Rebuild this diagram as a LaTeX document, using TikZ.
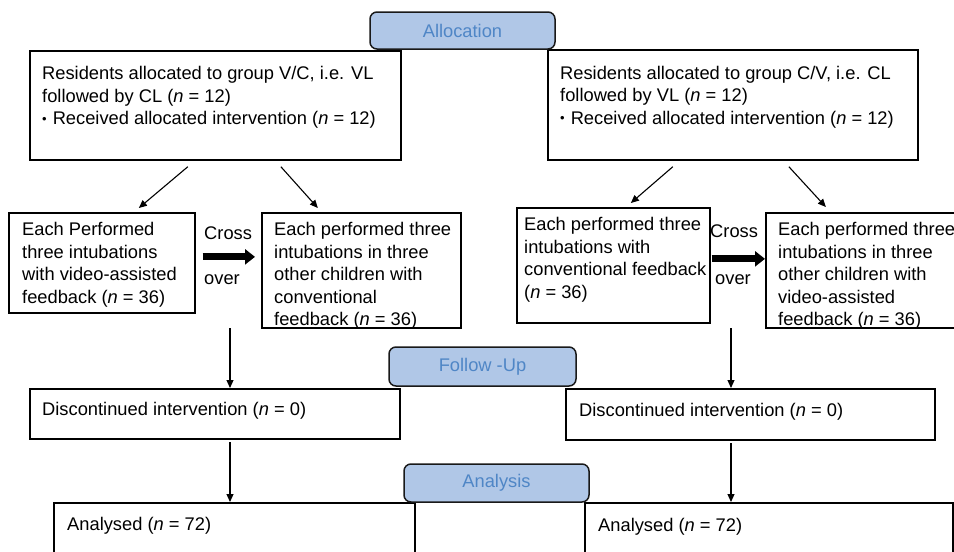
\documentclass[tikz,border=0pt]{standalone}
\usepackage{fontspec}
\setmainfont{Liberation Sans}
\usepackage{xcolor}
\usetikzlibrary{arrows.meta}
\definecolor{phasefill}{HTML}{B0C7E7}
\definecolor{phasetext}{HTML}{4F86C6}
\newcommand{\smallbullet}{{\fontsize{13}{13}\selectfont\raisebox{1.5pt}{\textbullet}}\hspace{6pt}}

\begin{document}
\begin{tikzpicture}[x=1pt,y=-1pt,
  every node/.style={font=\fontsize{18.3}{22.5}\selectfont},
  box/.style={draw, line width=1.7pt, anchor=north west, inner sep=0pt},
  txt/.style={anchor=north west, inner sep=0pt, align=left},
  phase/.style={draw=black!90, line width=1.5pt, fill=phasefill, text=phasetext, rounded corners=7pt, inner sep=0pt},
  conn/.style={line width=1.1pt, -{Triangle[length=8pt,width=7pt]}},
  fat/.style={line width=7pt, -{Triangle[length=10pt,width=15pt]}}]
\path[clip, use as bounding box] (0,0) rectangle (954,552);
\fill[white] (0,0) rectangle (954,552);

\node[box, minimum width=371pt, minimum height=109pt] (vcAlloc) at (29,50) {};
\node[box, minimum width=370pt, minimum height=110pt] (cvAlloc) at (547,49) {};
\node[box, minimum width=186pt, minimum height=100pt] (vcFirst) at (8,212) {};
\node[box, minimum width=199pt, minimum height=115pt] (vcSecond) at (261,212) {};
\node[box, minimum width=193pt, minimum height=115pt] (cvFirst) at (516,207) {};
\node[box, minimum width=195pt, minimum height=115pt] (cvSecond) at (765,212) {};
\node[box, minimum width=370pt, minimum height=50pt] (vcDisc) at (29,388) {};
\node[box, minimum width=369pt, minimum height=51pt] (cvDisc) at (565,388) {};
\node[box, minimum width=361pt, minimum height=80pt] (vcResult) at (53,502) {};
\node[box, minimum width=368pt, minimum height=80pt] (cvResult) at (584,502) {};

\node[txt] (vcAllocTxt) at ([shift={(13,16.5)}]vcAlloc.north west) {Residents allocated to group V/C, i.e. VL\\followed by CL (\textit{n} = 12)\\\smallbullet Received allocated intervention (\textit{n} = 12)};
\node[txt] (cvAllocTxt) at ([shift={(13,17)}]cvAlloc.north west) {Residents allocated to group C/V, i.e. CL\\followed by VL (\textit{n} = 12)\\\smallbullet Received allocated intervention (\textit{n} = 12)};
\node[txt] (vcFirstTxt) at ([shift={(14,10.5)}]vcFirst.north west) {Each Performed\\three intubations\\with video-assisted\\feedback (\textit{n} = 36)};
\node[txt] (vcSecondTxt) at ([shift={(13,10.5)}]vcSecond.north west) {Each performed three\\intubations in three\\other children with\\conventional\\feedback (\textit{n} = 36)};
\node[txt] (cvFirstTxt) at ([shift={(8,10.5)}]cvFirst.north west) {Each performed three\\intubations with\\conventional feedback\\(\textit{n} = 36)};
\node[txt] (cvSecondTxt) at ([shift={(13,10.5)}]cvSecond.north west) {Each performed three\\intubations in three\\other children with\\video-assisted\\feedback (\textit{n} = 36)};
\node[txt] (vcDiscTxt) at ([shift={(13,14.5)}]vcDisc.north west) {Discontinued intervention (\textit{n} = 0)};
\node[txt] (cvDiscTxt) at ([shift={(14,15)}]cvDisc.north west) {Discontinued intervention (\textit{n} = 0)};
\node[txt] (vcResultTxt) at ([shift={(14,15.5)}]vcResult.north west) {Analysed (\textit{n} = 72)};
\node[txt] (cvResultTxt) at ([shift={(14,16)}]cvResult.north west) {Analysed (\textit{n} = 72)};

\node[phase, minimum width=185pt, minimum height=37pt] (alloc) at (462.5,30.5) {Allocation};
\node[phase, minimum width=187pt, minimum height=39pt] (followup) at (482.5,366.5) {Follow -Up};
\node[phase, minimum width=185pt, minimum height=38pt] (analysis) at (496.5,483) {Analysis};

\node[anchor=base west, inner sep=0pt] (vcCross) at (204,239.5) {Cross};
\node[anchor=base west, inner sep=0pt] (vcOver) at (204,284) {over};
\node[anchor=base west, inner sep=0pt] (cvCross) at (710,237) {Cross};
\node[anchor=base west, inner sep=0pt] (cvOver) at (715,284.3) {over};

\draw[conn] ([shift={(-27.5,6)}]vcAlloc.south) -- ([shift={(37,-4)}]vcFirst.north);
\draw[conn] ([shift={(65.5,6)}]vcAlloc.south) -- ([shift={(-43.5,-4)}]vcSecond.north);
\draw[conn] ([shift={(-60,6)}]cvAlloc.south) -- ([shift={(17.5,-4)}]cvFirst.north);
\draw[conn] ([shift={(56,6)}]cvAlloc.south) -- ([shift={(-37.5,-5)}]cvSecond.north);

\draw[fat] ([shift={(7,-6)}]vcFirst.east) -- ([shift={(-6,-13.5)}]vcSecond.west);
\draw[fat] ([shift={(1,-6.5)}]cvFirst.east) -- ([shift={(0,-11.5)}]cvSecond.west);

\coordinate (vcDownA) at (230,328);
\coordinate (vcDownB) at (230,442);
\coordinate (cvDownA) at (731,328);
\coordinate (cvDownB) at (731,443);
\draw[conn] (vcDownA) -- (vcDownA |- vcDisc.north);
\draw[conn] (vcDownB) -- (vcDownB |- vcResult.north);
\draw[conn] (cvDownA) -- (cvDownA |- cvDisc.north);
\draw[conn] (cvDownB) -- (cvDownB |- cvResult.north);
\end{tikzpicture}
\end{document}
